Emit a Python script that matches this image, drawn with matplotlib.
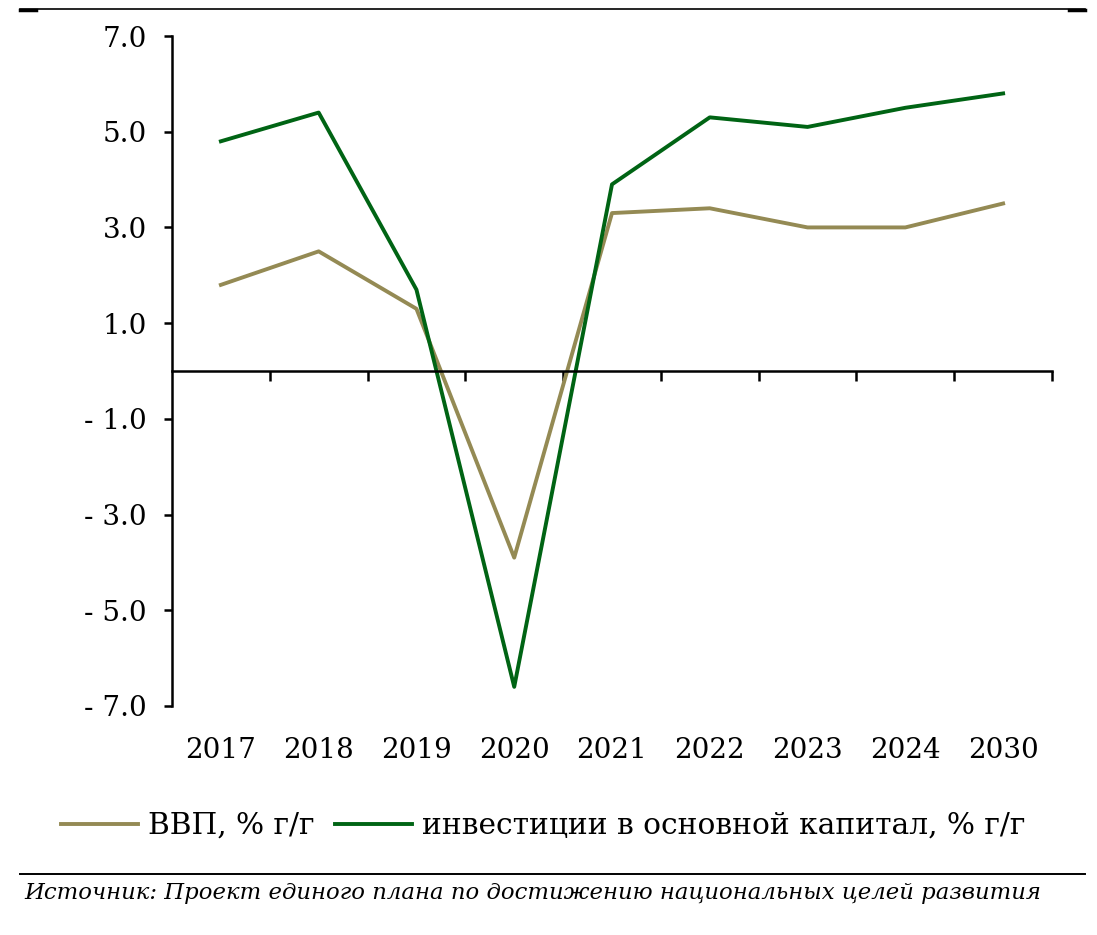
import matplotlib
matplotlib.use("Agg")
import matplotlib.pyplot as plt
from matplotlib.lines import Line2D

years = ["2017", "2018", "2019", "2020", "2021", "2022", "2023", "2024", "2030"]
gdp = [1.8, 2.5, 1.3, -3.9, 3.3, 3.4, 3.0, 3.0, 3.5]
invest = [4.8, 5.4, 1.7, -6.6, 3.9, 5.3, 5.1, 5.5, 5.8]
y_ticks = [7, 5, 3, 1, -1, -3, -5, -7]
y_labels = ["7.0", "5.0", "3.0", "1.0", "- 1.0", "- 3.0", "- 5.0", "- 7.0"]

gdp_name = "ВВП, % г/г"
invest_name = "инвестиции в основной капитал, % г/г"
source = "Источник: Проект единого плана по достижению национальных целей развития"

plt.rcParams['font.family'] = ['DejaVu Serif']

W, H = 1097, 935
fig = plt.figure(figsize=(W / 100, H / 100), dpi=100)
ax = fig.add_axes([172 / W, 1 - 706 / H, (1052 - 172) / W, (706 - 36) / H])

x = list(range(len(years)))
ax.plot(x, gdp, color="#948A54", lw=2.8, label=gdp_name)
ax.plot(x, invest, color="#006414", lw=2.8, label=invest_name)

ax.set_xlim(-0.5, len(years) - 0.5)
ax.set_ylim(-7, 7)

for s in ["top", "right"]:
    ax.spines[s].set_visible(False)
ax.spines["left"].set_linewidth(1.8)
ax.spines["bottom"].set_linewidth(1.8)
ax.spines["bottom"].set_position(("data", 0))

ax.set_yticks(y_ticks)
ax.set_yticklabels(y_labels, fontsize=20)
ax.tick_params(axis="y", direction="out", length=6, width=1.8, pad=12)

ax.set_xticks([])
ax.set_xticks([i + 0.5 for i in x], minor=True)
ax.tick_params(axis="x", which="minor", direction="out", length=7, width=1.8,
               labelbottom=False)

for i, yr in zip(x, years):
    ax.text(i, -0.067, yr, transform=ax.get_xaxis_transform(),
            ha="center", va="center", fontsize=20)

fig.legend(loc="center", bbox_to_anchor=(543 / W, 1 - 826 / H), ncol=2, frameon=False,
           fontsize=21.3, handlelength=2.6, handletextpad=0.33, columnspacing=0.7,
           borderaxespad=0, borderpad=0)

# rules at top and bottom
fig.add_artist(Line2D([20 / W, 1085 / W], [1 - 9 / H, 1 - 9 / H], color="black", lw=1.2))
fig.add_artist(Line2D([20 / W, 36 / W], [1 - 9.5 / H, 1 - 9.5 / H], color="black", lw=2.5))
fig.add_artist(Line2D([1069 / W, 1085 / W], [1 - 9.5 / H, 1 - 9.5 / H], color="black", lw=2.5))
fig.add_artist(Line2D([20 / W, 1085 / W], [1 - 874 / H, 1 - 874 / H], color="black", lw=1.4))

fig.text(24 / W, 1 - 893 / H, source, fontsize=16.4, style="italic", ha="left", va="center")

fig.savefig("out.png", dpi=100)
